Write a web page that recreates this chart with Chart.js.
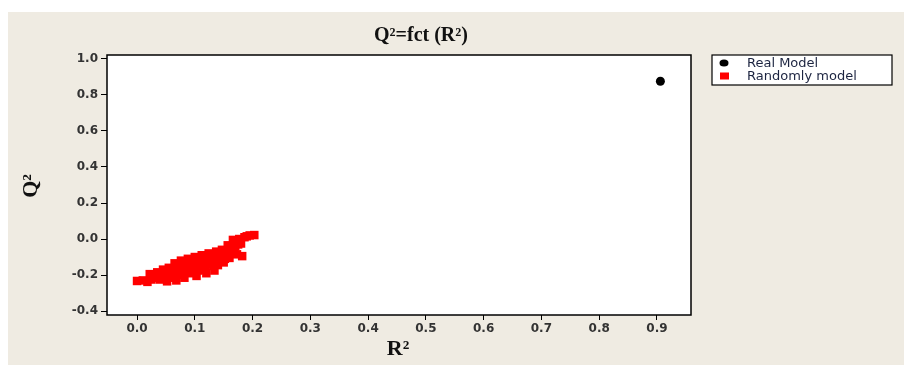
<!DOCTYPE html>
<html>
<head>
<meta charset="utf-8">
<script src="https://cdn.jsdelivr.net/npm/chart.js@4.4.1/dist/chart.umd.min.js"></script>
<style>
html,body{margin:0;padding:0;background:#fff;}
#wrap{width:904px;height:365px;position:relative;}
</style>
</head>
<body>
<div id="wrap"><canvas id="c" width="904" height="365"></canvas></div>
<script>
// ---- data ----
const chartTitle = "Q²=fct (R²)";
const xAxisTitle = "R²";
const yAxisTitle = "Q²";
const seriesNames = ["Real Model", "Randomly model"];
const realR2 = [0.906];
const realQ2 = [0.876];
const randR2 = [0.000,0.010,0.018,0.022,0.025,0.030,0.032,0.035,0.040,0.042,0.045,0.048,0.050,0.052,0.055,0.058,0.060,0.062,0.065,0.066,0.068,0.070,0.072,0.074,0.076,0.078,0.080,0.082,0.085,0.086,0.088,0.090,0.092,0.094,0.097,0.098,0.100,0.103,0.104,0.106,0.108,0.110,0.112,0.115,0.116,0.118,0.120,0.122,0.124,0.127,0.128,0.130,0.132,0.134,0.137,0.138,0.140,0.143,0.145,0.147,0.150,0.152,0.154,0.157,0.158,0.160,0.163,0.165,0.166,0.168,0.170,0.173,0.175,0.177,0.180,0.182,0.186,0.190,0.195,0.203];
const randQ2 = [-0.233,-0.230,-0.238,-0.195,-0.225,-0.215,-0.200,-0.185,-0.225,-0.205,-0.170,-0.200,-0.190,-0.235,-0.160,-0.215,-0.170,-0.185,-0.135,-0.205,-0.230,-0.160,-0.200,-0.150,-0.120,-0.190,-0.175,-0.215,-0.145,-0.170,-0.110,-0.190,-0.130,-0.160,-0.125,-0.150,-0.100,-0.205,-0.120,-0.175,-0.140,-0.170,-0.090,-0.115,-0.095,-0.160,-0.190,-0.140,-0.080,-0.130,-0.110,-0.100,-0.150,-0.175,-0.070,-0.120,-0.145,-0.110,-0.085,-0.060,-0.130,-0.110,-0.090,-0.035,-0.075,-0.105,-0.060,-0.040,-0.005,-0.080,-0.040,-0.085,-0.030,0.000,-0.025,-0.095,0.010,0.015,0.020,0.022];
const xTicks = [0.0,0.1,0.2,0.3,0.4,0.5,0.6,0.7,0.8,0.9];
const yTicks = [-0.4,-0.2,0.0,0.2,0.4,0.6,0.8,1.0];
const xRange = [-0.052, 0.959];
const yRange = [-0.422, 1.022];

const seriesColors = ["#000000", "#ff0000"];
const seriesStyles = ["circle", "rect"];

const toPts = (xs, ys) => xs.map((x, i) => ({x: x, y: ys[i]}));

const bgPlugin = {
  id: 'bg',
  beforeDraw(chart) {
    const ctx = chart.ctx;
    ctx.save();
    ctx.fillStyle = '#ffffff';
    ctx.fillRect(0, 0, chart.width, chart.height);
    ctx.fillStyle = '#efebe2';
    ctx.fillRect(8, 12, chart.width - 8, chart.height - 12);
    const a = chart.chartArea;
    ctx.fillStyle = '#ffffff';
    ctx.fillRect(a.left, a.top, a.right - a.left, a.bottom - a.top);
    ctx.restore();
  },
  afterDraw(chart) {
    const ctx = chart.ctx;
    const a = chart.chartArea;
    ctx.save();
    // plot border
    ctx.strokeStyle = '#000';
    ctx.lineWidth = 1.5;
    ctx.strokeRect(a.left, a.top, a.right - a.left, a.bottom - a.top);
    // titles
    ctx.fillStyle = '#111';
    ctx.textAlign = 'center';
    ctx.textBaseline = 'middle';
    ctx.font = 'bold 20px "Liberation Serif", serif';
    ctx.fillText(chartTitle, 421, 36);
    ctx.font = 'bold 22px "Liberation Serif", serif';
    ctx.fillText(xAxisTitle, 398, 349);
    ctx.save();
    ctx.translate(31, 186);
    ctx.rotate(-Math.PI / 2);
    ctx.fillText(yAxisTitle, 0, 0);
    ctx.restore();
    // legend
    const lx = 712, ly = 55, lw = 180, lh = 30;
    ctx.fillStyle = '#fff';
    ctx.fillRect(lx, ly, lw, lh);
    ctx.strokeStyle = '#000';
    ctx.lineWidth = 1.2;
    ctx.strokeRect(lx, ly, lw, lh);
    ctx.textAlign = 'left';
    ctx.font = '13px "DejaVu Sans", sans-serif';
    chart.data.datasets.forEach((ds, i) => {
      const y = ly + 8 + i * 13;
      ctx.fillStyle = ds.backgroundColor;
      if (ds.pointStyle === 'circle') {
        ctx.beginPath();
        ctx.ellipse(lx + 12, y, 4.5, 3.5, 0, 0, Math.PI * 2);
        ctx.fill();
      } else {
        ctx.fillRect(lx + 8, y - 3.5, 9, 7);
      }
      ctx.fillStyle = '#1c2440';
      ctx.fillText(ds.label, lx + 35, y + 0.5);
    });
    ctx.restore();
  }
};

const tickFont = {family: '"DejaVu Sans", sans-serif', size: 12, weight: 'bold'};

new Chart(document.getElementById('c'), {
  type: 'scatter',
  data: {
    datasets: [
      {label: seriesNames[0], data: toPts(realR2, realQ2), backgroundColor: seriesColors[0], borderWidth: 0, pointStyle: seriesStyles[0], pointRadius: 4.5},
      {label: seriesNames[1], data: toPts(randR2, randQ2), backgroundColor: seriesColors[1], borderWidth: 0, pointStyle: seriesStyles[1], pointRadius: 6}
    ]
  },
  options: {
    responsive: false,
    animation: false,
    devicePixelRatio: 1,
    layout: {padding: {left: 0, right: 213, top: 55, bottom: 0}},
    plugins: {legend: {display: false}, title: {display: false}, tooltip: {enabled: false}},
    scales: {
      x: {
        type: 'linear', min: xRange[0], max: xRange[1],
        afterBuildTicks: s => { s.ticks = xTicks.map(v => ({value: v})); },
        afterFit: s => { s.height = 50; },
        grid: {drawOnChartArea: false, drawTicks: true, tickLength: 5, color: '#000', lineWidth: 1},
        border: {display: false},
        ticks: {callback: v => Number(v).toFixed(1), font: tickFont, color: '#333', padding: 2, maxRotation: 0}
      },
      y: {
        type: 'linear', min: yRange[0], max: yRange[1],
        afterBuildTicks: s => { s.ticks = yTicks.map(v => ({value: v})); },
        afterFit: s => { s.width = 107; },
        grid: {drawOnChartArea: false, drawTicks: true, tickLength: 6, color: '#000', lineWidth: 1},
        border: {display: false},
        ticks: {callback: v => Number(v).toFixed(1), font: tickFont, color: '#333', padding: 3}
      }
    }
  },
  plugins: [bgPlugin]
});
</script>
</body>
</html>
